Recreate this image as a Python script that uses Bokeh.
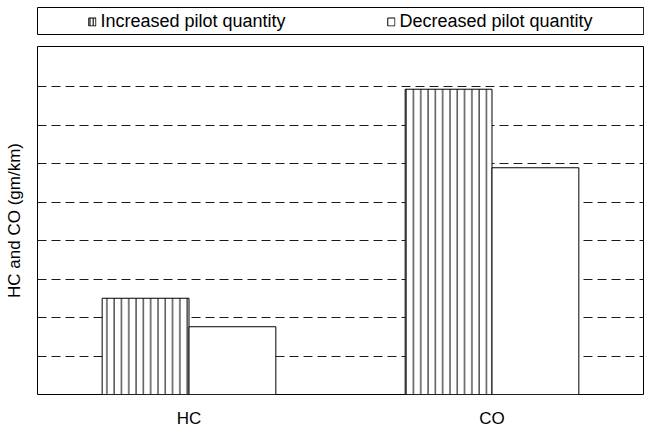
from bokeh.plotting import figure
from bokeh.models import (Legend, LegendItem, FactorRange, FixedTicker,
                          ColumnDataSource, Range1d)
from bokeh.transform import dodge
from bokeh.layouts import column
from bokeh.embed import file_html
from bokeh.resources import INLINE

# ---- data ----
categories = ["HC", "CO"]
increased = [2.50, 7.93]
decreased = [1.76, 5.89]
series_labels = ["Increased pilot quantity", "Decreased pilot quantity"]
grid_ticks = [1, 2, 3, 4, 5, 6, 7, 8]
y_label = "HC and CO (gm/km)"

FONT = "Liberation Sans"
BAR_W = 0.2866
W = 648

src = ColumnDataSource(dict(cat=categories, inc=increased, dec=decreased))

# ---- main plot ----
p = figure(x_range=FactorRange(*categories), y_range=Range1d(0, 9.04),
           width=W, height=395, output_backend="svg", toolbar_location=None,
           min_border_left=37, min_border_right=W - 643, min_border_top=11,
           min_border_bottom=35)

hatch_style = dict(fill_color="white", line_color="black", line_width=1,
                   hatch_pattern="vertical_line", hatch_color="black",
                   hatch_scale=7.3, hatch_weight=1)
plain_style = dict(fill_color="white", line_color="black", line_width=1)

p.vbar(x=dodge("cat", -BAR_W / 2, range=p.x_range), top="inc", width=BAR_W,
       source=src, **hatch_style)
p.vbar(x=dodge("cat", BAR_W / 2, range=p.x_range), top="dec", width=BAR_W,
       source=src, **plain_style)

p.xgrid.visible = False
p.yaxis.ticker = FixedTicker(ticks=[])
p.ygrid.ticker = FixedTicker(ticks=grid_ticks)
p.ygrid.grid_line_color = "#1a1a1a"
p.ygrid.grid_line_dash = "9 5"
p.ygrid.grid_line_width = 1

p.yaxis.major_label_standoff = 0
p.yaxis.major_tick_out = 0
p.yaxis.major_tick_in = 0
p.yaxis.major_tick_line_color = None
p.yaxis.minor_tick_line_color = None
p.yaxis.axis_line_color = None
p.yaxis.axis_label = y_label
p.yaxis.axis_label_text_font = FONT
p.yaxis.axis_label_text_font_style = "normal"
p.yaxis.axis_label_text_font_size = "17px"
p.yaxis.axis_label_text_color = "black"
p.yaxis.axis_label_standoff = 14

p.xaxis.major_tick_out = 0
p.xaxis.major_tick_in = 0
p.xaxis.major_tick_line_color = None
p.xaxis.minor_tick_line_color = None
p.xaxis.axis_line_color = None
p.xaxis.major_label_text_font = FONT
p.xaxis.major_label_text_font_size = "17px"
p.xaxis.major_label_text_color = "black"
p.xaxis.major_label_standoff = 14

p.outline_line_color = "black"
p.outline_line_alpha = 1
p.outline_line_width = 1

# ---- legend strip ----
leg = figure(width=W, height=35, x_range=(0, 1), y_range=(0, 1),
             output_backend="svg", toolbar_location=None,
             x_axis_location=None, y_axis_location=None,
             min_border_left=37, min_border_right=W - 643, min_border_top=7,
             min_border_bottom=0)
leg.grid.visible = False
leg.outline_line_color = "black"
leg.outline_line_alpha = 1
leg_hatch = dict(hatch_style, hatch_scale=3.2)
r1 = leg.vbar(x=[10], top=[1], width=0.1, **leg_hatch)
r2 = leg.vbar(x=[10], top=[1], width=0.1, **plain_style)
legend = Legend(items=[LegendItem(label=series_labels[0], renderers=[r1]),
                       LegendItem(label=series_labels[1], renderers=[r2])],
                orientation="horizontal", location="center",
                border_line_alpha=0, background_fill_alpha=0,
                spacing=101, label_standoff=4, glyph_width=9, glyph_height=10,
                padding=0, margin=0, label_text_font=FONT,
                label_text_font_size="18px", label_text_color="black")
leg.add_layout(legend, "center")

layout = column(leg, p)
open("out.html", "w").write(file_html(layout, INLINE))
